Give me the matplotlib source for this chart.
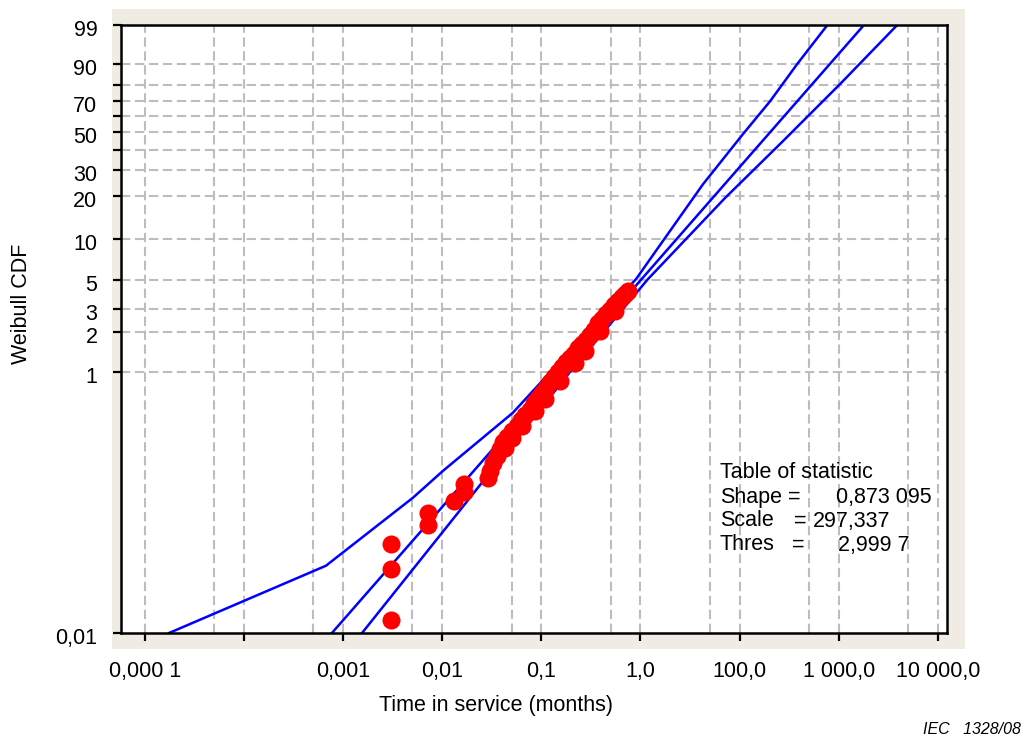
import numpy as np
import matplotlib
matplotlib.use("Agg")
import matplotlib.pyplot as plt
from matplotlib.patches import Rectangle
from matplotlib.ticker import NullLocator
from matplotlib.transforms import ScaledTranslation

plt.rcParams['font.family'] = ['Liberation Sans', 'DejaVu Sans']

# failures: time in service (months) and CDF (%)
fail_time = [0.0303, 0.0303, 0.0303, 0.0718, 0.0718, 0.131, 0.166, 0.166,
             0.289, 0.303, 0.325, 0.356, 0.382, 0.410, 0.450, 0.505, 0.568,
             0.622, 0.682, 0.767, 0.841, 0.925, 1.01, 1.11, 1.22, 1.34, 1.47,
             1.61, 1.77, 1.95, 2.13, 2.34, 2.57, 2.82, 3.09, 3.40, 3.72, 4.09,
             4.49, 4.92, 5.41, 5.93, 6.50, 6.97, 7.48,
             0.430, 0.505, 0.637, 0.861, 1.087, 1.541, 2.183, 2.754, 3.90, 5.53]
fail_cdf = [0.0126, 0.0311, 0.0483, 0.0676, 0.0835, 0.103, 0.121, 0.139,
            0.155, 0.175, 0.202, 0.228, 0.258, 0.292, 0.319, 0.355, 0.387,
            0.431, 0.470, 0.513, 0.580, 0.633, 0.692, 0.755, 0.839, 0.917, 1.00,
            1.09, 1.19, 1.28, 1.37, 1.52, 1.63, 1.75, 1.91, 2.09, 2.36, 2.53,
            2.76, 2.96, 3.23, 3.46, 3.70, 3.90, 4.11,
            0.263, 0.314, 0.387, 0.505, 0.623, 0.855, 1.171, 1.444, 2.05, 2.90]

# fitted line and confidence bounds
fit_time = [0.0077, 1800]
fit_cdf = [0.01, 99]
upper_time = [1.75e-4, 0.0067, 0.0506, 0.1016, 0.516, 1.22, 9.02, 42.8, 108, 203, 380, 770]
upper_cdf = [0.01, 0.0328, 0.109, 0.175, 0.488, 0.99, 5.05, 24.2, 48.8, 69.8, 90, 99]
lower_time = [0.0155, 0.1197, 1.945, 11.9, 71.3, 274, 1030, 3900]
lower_cdf = [0.01, 0.070, 1.0, 5.05, 19.5, 44.7, 80.2, 99]

x_ticks = [1e-4, 1e-3, 1e-2, 1e-1, 1e0, 1e1, 1e2, 1e3, 1e4]
x_labels = ["0,000 1", "", "0,001", "0,01", "0,1", "1,0", "100,0", "1 000,0", "10 000,0"]
x_grid_half = [5e-4, 5e-3, 5e-2, 5e-1, 5e0, 5e1, 5e2, 5e3]
y_ticks = [0.01, 1, 2, 3, 5, 10, 20, 30, 50, 70, 90, 99]
y_labels = ["0,01", "1", "2", "3", "5", "10", "20", "30", "50", "70", "90", "99"]
y_minor = [40, 60, 80]
y_grid = [1, 2, 3, 5, 10, 20, 30, 40, 50, 60, 70, 80, 90]


def weib(p):
    p = np.clip(np.asarray(p, dtype=float), 1e-9, 99.99999)
    return np.log(-np.log(1 - p / 100.0))


def weib_inv(w):
    return 100.0 * (1 - np.exp(-np.exp(w)))


W, H = 1024, 747
fig = plt.figure(figsize=(W / 100, H / 100), dpi=100)

def fx(x):
    return x / W

def fy(y):
    return 1 - y / H

bg = Rectangle((fx(112), fy(649)), (965 - 112) / W, (649 - 9) / H,
               transform=fig.transFigure, facecolor='#f0ece3', edgecolor='none', zorder=-5)
fig.patches.append(bg)

ax = fig.add_axes([fx(121), fy(633), (947 - 121) / W, (633 - 25) / H])
ax.set_facecolor('white')
ax.set_xscale('log')
ax.set_yscale('function', functions=(weib, weib_inv))
ax.set_xlim(5.73e-5, 1.239e4)
ax.set_ylim(0.01, 99)

grid_kw = dict(color='#bdbdbd', lw=1.5, dashes=(4.5, 2.2), zorder=1)
for v in x_ticks + x_grid_half:
    ax.axvline(v, **grid_kw)
for v in y_grid:
    ax.axhline(v, **grid_kw)

ax.plot(upper_time, upper_cdf, color='#0000ff', lw=1.8, zorder=3)
ax.plot(fit_time, fit_cdf, color='#0000ff', lw=1.8, zorder=3)
ax.plot(lower_time, lower_cdf, color='#0000ff', lw=1.8, zorder=3)
ax.plot(fail_time, fail_cdf, 'o', color='#ff0000', ms=13, mec='none', zorder=4)

ax.set_xticks(x_ticks)
ax.set_xticklabels(x_labels)
ax.xaxis.set_minor_locator(NullLocator())
ax.set_yticks(y_ticks)
ax.set_yticklabels(y_labels)
ax.set_yticks(y_minor, minor=True)
ax.tick_params(axis='both', which='both', direction='out', length=6, width=1.6,
               color='black', labelsize=15.5)
ax.tick_params(axis='x', pad=14)
ax.tick_params(axis='y', pad=11)
shift = ScaledTranslation(0, -3 / 100, fig.dpi_scale_trans)
for lab in ax.get_yticklabels():
    lab.set_transform(lab.get_transform() + shift)
for s in ax.spines.values():
    s.set_linewidth(1.8)
    s.set_color('black')
    s.set_zorder(5)

fig.text(fx(496), fy(705), "Time in service (months)", ha='center', va='center', fontsize=15.5)
fig.text(fx(22), fy(304), "Weibull CDF", ha='center', va='center', rotation=90, fontsize=15.5)

# statistics table
rows = [(472, "Table of statistic", None, None, None, None),
        (497, "Shape", 788, "=", 836, "0,873 095"),
        (521, "Scale", 794, "=", 813, "297,337"),
        (545, "Thres", 792, "=", 838, "2,999 7")]
for y, lab, xe, eq, xv, val in rows:
    fig.text(fx(720), fy(y), lab, ha='left', va='center', fontsize=15.5)
    if eq:
        fig.text(fx(xe), fy(y), eq, ha='left', va='center', fontsize=15.5)
        fig.text(fx(xv), fy(y), val, ha='left', va='center', fontsize=15.5)

fig.text(fx(1021), fy(729), "IEC   1328/08", ha='right', va='center', fontsize=11.5, style='italic')

fig.savefig("out.png", dpi=100)
